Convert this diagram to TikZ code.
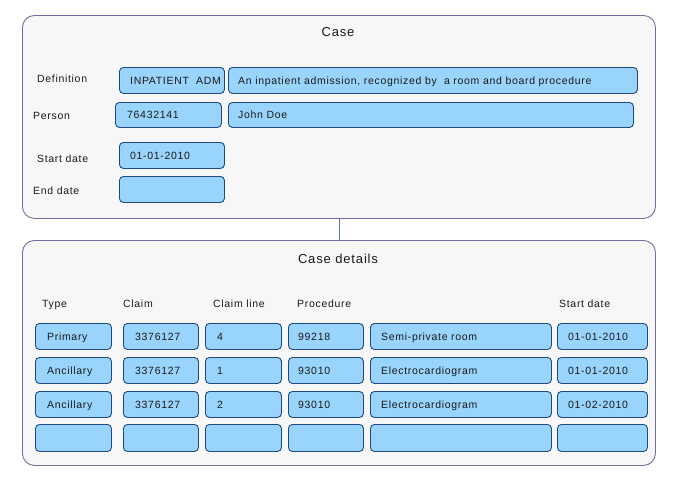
\documentclass[tikz,border=0pt]{standalone}
\usepackage{fontspec}
\setmainfont{Liberation Sans}[LetterSpace=6.5]
\usetikzlibrary{calc}
\definecolor{cellfill}{HTML}{99D4FC}
\definecolor{celldraw}{HTML}{1F4A7F}
\definecolor{boxfill}{HTML}{F7F7F8}
\definecolor{boxdraw}{HTML}{70709A}
\definecolor{linkc}{HTML}{5A74A8}
\definecolor{txtc}{HTML}{1A1A1A}
\tikzset{
  cell/.style={draw=celldraw, fill=cellfill, line width=0.9pt, rounded corners=4pt, inner sep=0pt},
  container/.style={draw=boxdraw, fill=boxfill, line width=0.9pt, rounded corners=12pt, inner sep=0pt},
  txt/.style={inner sep=0pt, text=txtc, font=\fontsize{10.5}{12}\selectfont},
  title/.style={inner sep=0pt, text=txtc, font=\fontsize{13}{15}\selectfont},
  link/.style={draw=linkc, line width=0.8pt}
}
\newcommand{\cellbox}[7]{%
  \node[cell, minimum width={(#4-#2)*1pt}, minimum height={(#5-#3)*1pt}, anchor=north west] (#1) at (#2,#3) {};
  \node[txt, anchor=base west] (#1t) at (#6,{(#3+#5)/2+4}) {#7};}
\newcommand{\lbl}[4]{\node[txt, anchor=base west] (#1) at (#2,#3) {#4};}
\begin{document}
\begin{tikzpicture}[x=1pt,y=-1pt]
\useasboundingbox (0,0) rectangle (680,491);
% containers
\node[container, minimum width=633pt, minimum height=203pt, anchor=north west] (case) at (22,15) {};
\node[container, minimum width=633pt, minimum height=225pt, anchor=north west] (details) at (22,240) {};
\draw[link] (case.south) -- (details.north);
\node[title, anchor=base] (casetitle) at (338,36) {Case};
\node[title, anchor=base] (dettitle) at (338,263) {Case details};
% top labels
\lbl{ldef}{37}{82}{Definition}
\lbl{lper}{33}{119}{Person}
\lbl{lsd}{37}{162}{Start date}
\lbl{led}{33}{194}{End date}
% top cells
\cellbox{def}{119}{67}{224}{93}{130}{INPATIENT\ \ ADM}
\cellbox{desc}{228}{67}{637}{93}{238}{An inpatient admission, recognized by\ \ a room and board procedure}
\cellbox{pid}{115}{102}{221}{127}{127}{76432141}
\cellbox{pname}{228}{102}{633}{127}{238}{John Doe}
\cellbox{sd}{119}{142}{224}{168}{130}{01-01-2010}
\cellbox{ed}{119}{176}{224}{202}{130}{}
% headers
\lbl{htype}{42}{307}{Type}
\lbl{hclaim}{123}{307}{Claim}
\lbl{hline}{213}{307}{Claim line}
\lbl{hproc}{297}{307}{Procedure}
\lbl{hsd}{559}{307}{Start date}
% rows
\cellbox{ta}{35}{323}{111}{349}{47}{Primary}
\cellbox{ca}{123}{323}{198}{349}{135}{3376127}
\cellbox{la}{205}{323}{281}{349}{217}{4}
\cellbox{pa}{288}{323}{363}{349}{298}{99218}
\cellbox{da}{370}{323}{551}{349}{381}{Semi-private room}
\cellbox{sa}{557}{323}{647}{349}{568}{01-01-2010}
%
\cellbox{tb}{35}{357}{111}{383}{47}{Ancillary}
\cellbox{cb}{123}{357}{198}{383}{135}{3376127}
\cellbox{lb}{205}{357}{281}{383}{217}{1}
\cellbox{pb}{288}{357}{363}{383}{298}{93010}
\cellbox{db}{370}{357}{551}{383}{381}{Electrocardiogram}
\cellbox{sb}{557}{357}{647}{383}{568}{01-01-2010}
%
\cellbox{tc}{35}{391}{111}{417}{47}{Ancillary}
\cellbox{cc}{123}{391}{198}{417}{135}{3376127}
\cellbox{lc}{205}{391}{281}{417}{217}{2}
\cellbox{pc}{288}{391}{363}{417}{298}{93010}
\cellbox{dc}{370}{391}{551}{417}{381}{Electrocardiogram}
\cellbox{sc}{557}{391}{647}{417}{568}{01-02-2010}
%
\cellbox{td}{35}{424}{111}{451}{47}{}
\cellbox{cd}{123}{424}{198}{451}{135}{}
\cellbox{ld}{205}{424}{281}{451}{217}{}
\cellbox{pd}{288}{424}{363}{451}{298}{}
\cellbox{dd}{370}{424}{551}{451}{381}{}
\cellbox{sdd}{557}{424}{647}{451}{568}{}
\end{tikzpicture}
\end{document}
